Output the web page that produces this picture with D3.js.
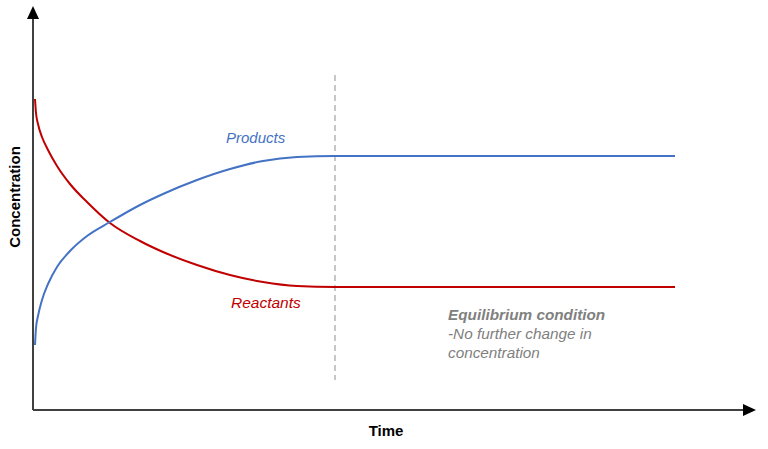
<!DOCTYPE html>
<html>
<head>
<meta charset="utf-8">
<script src="https://cdn.jsdelivr.net/npm/d3@7"></script>
<style>
  body { margin: 0; background: #fff; }
  text { font-family: "Liberation Sans", Arial, sans-serif; }
</style>
</head>
<body>
<svg id="chart"></svg>
<script>
// time points shared by both series
const times = [0, 0.025, 0.075, 0.175, 0.325, 0.55, 0.875, 1.3, 1.875, 2.625, 3.2, 4.05, 4.875, 5.7, 6.55, 7.5, 16];
const reactants = [77.75, 74.25, 71.5, 68.25, 65, 61, 56.5, 52, 46.75, 42.25, 39.5, 36.25, 33.75, 32, 31, 30.75, 30.75];
const products = [16.25, 20.5, 23.5, 27.5, 31.5, 35.75, 39.75, 43.5, 47, 51.25, 54, 57.5, 60.25, 62.25, 63.25, 63.5, 63.5];
const equilibriumTime = 7.5;
const equilibriumSpan = [7.5, 83.75];
const noteLines = ["Equilibrium condition", "-No further change in", "concentration"];

const width = 768;
const height = 449;

const svg = d3.select("#chart")
  .attr("width", width)
  .attr("height", height);

const xScale = d3.scaleLinear()
  .domain([0, 16])
  .range([35, 675]);

const yScale = d3.scaleLinear()
  .domain([0, 100])
  .range([410, 10]);

const axisColor = "#404040";

// axes with arrow heads
svg.append("line")
  .attr("x1", 33).attr("y1", 410)
  .attr("x2", 33).attr("y2", 18)
  .attr("stroke", axisColor)
  .attr("stroke-width", 2);
svg.append("path")
  .attr("d", "M33,6 L27,19 L39,19 Z")
  .attr("fill", "#000");

svg.append("line")
  .attr("x1", 33).attr("y1", 410)
  .attr("x2", 744).attr("y2", 410)
  .attr("stroke", axisColor)
  .attr("stroke-width", 2);
svg.append("path")
  .attr("d", "M756,410 L743,404 L743,416 Z")
  .attr("fill", "#000");

// equilibrium marker
svg.append("line")
  .attr("x1", xScale(equilibriumTime)).attr("x2", xScale(equilibriumTime))
  .attr("y1", yScale(equilibriumSpan[1])).attr("y2", yScale(equilibriumSpan[0]))
  .attr("stroke", "#aaaaaa")
  .attr("stroke-width", 1.3)
  .attr("stroke-dasharray", "6,4");

const line = d3.line()
  .x(d => xScale(d[0]))
  .y(d => yScale(d[1]))
  .curve(d3.curveMonotoneX);

svg.append("path")
  .datum(times.map((t, i) => [t, reactants[i]]))
  .attr("d", line)
  .attr("fill", "none")
  .attr("stroke", "#C00000")
  .attr("stroke-width", 2);

svg.append("path")
  .datum(times.map((t, i) => [t, products[i]]))
  .attr("d", line)
  .attr("fill", "none")
  .attr("stroke", "#4472C4")
  .attr("stroke-width", 2);

// labels
svg.append("text")
  .attr("x", 226).attr("y", 143)
  .attr("font-size", 15)
  .attr("font-style", "italic")
  .attr("fill", "#4472C4")
  .text("Products");

svg.append("text")
  .attr("x", 231).attr("y", 308)
  .attr("font-size", 15.5)
  .attr("font-style", "italic")
  .attr("fill", "#C00000")
  .text("Reactants");

svg.selectAll("text.note")
  .data(noteLines)
  .enter()
  .append("text")
  .attr("class", "note")
  .attr("x", 448)
  .attr("y", (d, i) => 320 + i * 19)
  .attr("font-size", 15.3)
  .attr("font-style", "italic")
  .attr("font-weight", (d, i) => i === 0 ? "bold" : "normal")
  .attr("fill", "#808080")
  .text(d => d);

svg.append("text")
  .attr("x", 386).attr("y", 436)
  .attr("text-anchor", "middle")
  .attr("font-size", 15)
  .attr("font-weight", "bold")
  .attr("fill", "#000")
  .text("Time");

svg.append("text")
  .attr("transform", "rotate(-90)")
  .attr("x", -197).attr("y", 20)
  .attr("text-anchor", "middle")
  .attr("font-size", 15)
  .attr("font-weight", "bold")
  .attr("fill", "#000")
  .text("Concentration");
</script>
</body>
</html>
